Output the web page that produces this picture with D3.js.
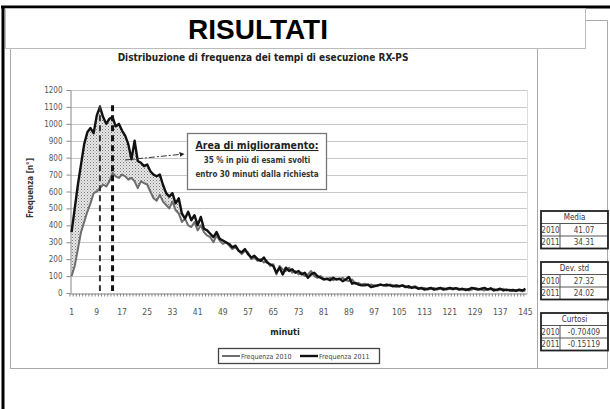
<!DOCTYPE html>
<html>
<head>
<meta charset="utf-8">
<script src="https://cdn.jsdelivr.net/npm/d3@7"></script>
<style>
  body { margin: 0; background: #fff; }
  svg { display: block; }
  .tick text { font-family: "Liberation Sans Narrow", "DejaVu Sans Condensed", sans-serif; fill: #555; }
</style>
</head>
<body>
<svg id="board" width="610" height="409"></svg>
<script>
// minutes 1..145
var minutes = d3.range(1, 146);
var xLabels = [1, 9, 17, 25, 33, 41, 49, 57, 65, 73, 81, 89, 97, 105, 113, 121, 129, 137, 145];
var yTicks = [0, 100, 200, 300, 400, 500, 600, 700, 800, 900, 1000, 1100, 1200];

var freq2010 = [
  100, 160, 260, 360, 420, 480, 530, 590, 600, 620,
  640, 630, 660, 710, 690, 680, 700, 690, 670, 680,
  660, 620, 660, 650, 640, 600, 560, 545, 580, 540,
  520, 500, 540, 490, 470, 420, 440, 400, 390, 420,
  370, 400, 360, 340, 330, 300, 340, 310, 290, 300,
  280, 260, 270, 250, 230, 250, 240, 200, 210, 190,
  200, 180, 190, 160, 170, 110, 160, 140, 130, 150,
  120, 130, 110, 120, 100, 110, 130, 100, 90, 100,
  85, 80, 90, 75, 85, 80, 90, 75, 70, 80,
  55, 60, 50, 55, 45, 50, 45, 40, 50, 45,
  40, 50, 45, 35, 40, 45, 40, 30, 35, 40,
  30, 25, 30, 20, 25, 30, 20, 25, 30, 20,
  25, 20, 30, 25, 20, 25, 15, 20, 30, 25,
  20, 15, 25, 20, 25, 15, 20, 25, 15, 20,
  12, 18, 15, 10, 15
];
var freq2011 = [
  360, 500, 640, 760, 880, 950, 975, 945, 1050, 1100,
  1040, 1000, 1030, 1040, 985, 1000, 960, 930, 880, 790,
  900, 780, 770, 750, 760, 720, 700, 690, 700, 640,
  590, 570, 590, 530, 560, 470, 440, 480, 430, 460,
  400, 450, 380, 370, 350, 330, 360, 320, 310, 300,
  290, 270, 280, 250, 240, 260, 230, 210, 220, 200,
  190, 210, 180, 170, 160, 120, 150, 110, 150, 130,
  140, 120, 130, 110, 120, 90, 110, 120, 100, 90,
  80, 85, 75, 90, 80, 85, 70, 80, 95, 55,
  60, 50, 45, 45, 50, 35, 40, 45, 50, 45,
  50, 45, 40, 45, 40, 45, 35, 40, 30, 35,
  25, 30, 20, 25, 30, 20, 25, 30, 20, 25,
  30, 25, 28, 20, 25, 18, 22, 30, 25, 20,
  25, 30, 20, 28, 15, 20, 25, 15, 20, 15,
  18, 12, 20, 15, 25
];
var shadeUntil = 36;      // improvement area covers minutes 1..36
var markerMinutes = [10, 14];

var statYears = ['2010', '2011'];
var mediaVals = ['41.07', '34.31'];
var devStdVals = ['27.32', '24.02'];
var curtosiVals = ['-0.70409', '-0.15119'];

var narrow = '"Liberation Sans Narrow", "DejaVu Sans Condensed", sans-serif';
var svg = d3.select('#board');

// outer black frame (top + left)
svg.append('line').attr('x1', 1).attr('x2', 610).attr('y1', 7).attr('y2', 7)
  .attr('stroke', '#000').attr('stroke-width', 3);
svg.append('line').attr('x1', 3).attr('x2', 3).attr('y1', 6).attr('y2', 409)
  .attr('stroke', '#000').attr('stroke-width', 3);

// chart area frame and side panel
var frame = svg.append('g').attr('fill', 'none').attr('stroke', '#aaa').attr('stroke-width', 1);
frame.append('rect').attr('x', 10.5).attr('y', 38.5).attr('width', 527).attr('height', 330);
frame.append('path').attr('d', 'M537.5,368.5 H607.5 V20.5 H585');

// title box
svg.append('rect').attr('x', 5.5).attr('y', 8.5).attr('width', 580).attr('height', 40)
  .attr('fill', '#fff').attr('stroke', '#bbb');
svg.append('text').attr('x', 258).attr('y', 39).attr('text-anchor', 'middle')
  .attr('font-family', 'Arial, "Liberation Sans", sans-serif').attr('font-weight', 'bold')
  .attr('font-size', 28).text('RISULTATI');

svg.append('text').attr('x', 263).attr('y', 61).attr('text-anchor', 'middle')
  .attr('font-family', narrow).attr('font-weight', 'bold').attr('font-size', 10)
  .attr('fill', '#222').text('Distribuzione di frequenza dei tempi di esecuzione RX-PS');

// scales
var x = d3.scaleBand().domain(minutes).range([70, 527]);
var bw = x.bandwidth();
var y = d3.scaleLinear().domain([0, 1200]).range([293, 90]);
var cx = m => x(m) + bw / 2;

// gridlines
svg.append('g').selectAll('line').data(yTicks.slice(1)).join('line')
  .attr('x1', 70).attr('x2', 527)
  .attr('y1', d => Math.round(y(d)) + 0.5).attr('y2', d => Math.round(y(d)) + 0.5)
  .attr('stroke', '#c8c8c8').attr('stroke-width', 1.2);
svg.append('line').attr('x1', 527.5).attr('x2', 527.5).attr('y1', 90).attr('y2', 293)
  .attr('stroke', '#ddd');

// stipple pattern for the improvement area
var defs = svg.append('defs');
var pat = defs.append('pattern').attr('id', 'stipple').attr('patternUnits', 'userSpaceOnUse')
  .attr('width', 3).attr('height', 3);
pat.append('rect').attr('width', 3).attr('height', 3).attr('fill', '#e8e8e8');
pat.append('rect').attr('width', 1).attr('height', 1).attr('fill', '#777');
pat.append('rect').attr('x', 1.5).attr('y', 1.5).attr('width', 1).attr('height', 1).attr('fill', '#999');

var shadeData = minutes.filter(m => m <= shadeUntil);
var area = d3.area().x(m => cx(m))
  .y0(m => y(freq2010[m - 1])).y1(m => y(Math.max(freq2010[m - 1], freq2011[m - 1])));
svg.append('path').datum(shadeData).attr('d', area).attr('fill', 'url(#stipple)');

// axes
var yAxis = svg.append('g').attr('transform', 'translate(70.5,0)')
  .call(d3.axisLeft(y).tickValues(yTicks).tickFormat(d3.format('d'))
    .tickSize(4).tickSizeOuter(0).tickPadding(4));
yAxis.selectAll('text').attr('font-size', 8);
yAxis.selectAll('line, path').attr('stroke', '#888');

var xAxis = svg.append('g').attr('transform', 'translate(0,293.5)')
  .call(d3.axisBottom(x).tickSize(3).tickSizeOuter(0).tickPadding(12)
    .tickFormat(d => xLabels.includes(d) ? d : ''));
xAxis.selectAll('.tick line').attr('transform', `translate(${-bw / 2},0)`);
xAxis.selectAll('text').attr('font-size', 8.5);
xAxis.selectAll('line, path').attr('stroke', '#888');

svg.append('text').attr('transform', 'translate(33,188) rotate(-90)').attr('text-anchor', 'middle')
  .attr('font-family', narrow).attr('font-weight', 'bold').attr('font-size', 8).attr('fill', '#333')
  .text('Frequenza [n°]');
svg.append('text').attr('x', 285).attr('y', 335).attr('text-anchor', 'middle')
  .attr('font-family', narrow).attr('font-weight', 'bold').attr('font-size', 9).attr('fill', '#222')
  .text('minuti');

// series lines
var line = d3.line().x(m => cx(m));
svg.append('path').datum(minutes).attr('d', line.y(m => y(freq2010[m - 1])))
  .attr('fill', 'none').attr('stroke', '#6e6e6e').attr('stroke-width', 2).attr('stroke-linejoin', 'round');
svg.append('path').datum(minutes).attr('d', line.y(m => y(freq2011[m - 1])))
  .attr('fill', 'none').attr('stroke', '#111').attr('stroke-width', 2.4).attr('stroke-linejoin', 'round');

// dashed markers
svg.append('g').selectAll('line').data(markerMinutes).join('line')
  .attr('x1', m => cx(m)).attr('x2', m => cx(m))
  .attr('y1', y(1110)).attr('y2', y(0) - 2)
  .attr('stroke', (m, i) => i ? '#111' : '#333')
  .attr('stroke-width', (m, i) => i ? 3 : 2)
  .attr('stroke-dasharray', '6,4');

// annotation arrow + box
defs.append('marker').attr('id', 'arrow').attr('viewBox', '0 0 10 10').attr('refX', 9).attr('refY', 5)
  .attr('markerWidth', 5).attr('markerHeight', 5).attr('orient', 'auto')
  .append('path').attr('d', 'M0,0 L10,5 L0,10 Z').attr('fill', '#222');
svg.append('line').attr('x1', 125).attr('y1', 160).attr('x2', 184).attr('y2', 154)
  .attr('stroke', '#333').attr('stroke-width', 1).attr('stroke-dasharray', '6,2,2,2')
  .attr('marker-end', 'url(#arrow)');

svg.append('rect').attr('x', 187.5).attr('y', 133.5).attr('width', 139).attr('height', 56)
  .attr('fill', '#fff').attr('stroke', '#777').attr('stroke-width', 1.3);
svg.append('text').attr('x', 257).attr('y', 149).attr('text-anchor', 'middle')
  .attr('font-family', narrow).attr('font-weight', 'bold').attr('font-size', 10.5)
  .attr('text-decoration', 'underline').attr('fill', '#222').text('Area di miglioramento:');
svg.append('text').attr('x', 257).attr('y', 163).attr('text-anchor', 'middle')
  .attr('font-family', narrow).attr('font-weight', 'bold').attr('font-size', 8)
  .attr('fill', '#333').text('35 % in più di esami svolti');
svg.append('text').attr('x', 257).attr('y', 177).attr('text-anchor', 'middle')
  .attr('font-family', narrow).attr('font-weight', 'bold').attr('font-size', 8)
  .attr('fill', '#333').text('entro 30 minuti dalla richiesta');

// legend
var lg = svg.append('g').attr('transform', 'translate(218,348)');
lg.append('rect').attr('x', 0.5).attr('y', 0.5).attr('width', 161).attr('height', 15)
  .attr('fill', '#fff').attr('stroke', '#444').attr('stroke-width', 1.3);
[['Frequenza 2010', '#6e6e6e', 2], ['Frequenza 2011', '#111', 2.4]].forEach((s, i) => {
  var ox = 4 + i * 78;
  lg.append('line').attr('x1', ox).attr('x2', ox + 18).attr('y1', 8).attr('y2', 8)
    .attr('stroke', s[1]).attr('stroke-width', s[2]);
  lg.append('text').attr('x', ox + 19).attr('y', 10.5).attr('font-family', narrow)
    .attr('font-size', 7).attr('fill', '#444').text(s[0]);
});

// stats tables
function statTable(top, title, vals) {
  var g = svg.append('g').attr('transform', `translate(541,${top})`);
  var w = 67, rh = 12.5;
  g.append('line').attr('x1', 0).attr('x2', w).attr('y1', rh).attr('y2', rh).attr('stroke', '#555');
  g.append('line').attr('x1', 0).attr('x2', w).attr('y1', rh * 2).attr('y2', rh * 2).attr('stroke', '#555');
  g.append('line').attr('x1', 19).attr('x2', 19).attr('y1', rh).attr('y2', rh * 3).attr('stroke', '#555');
  g.append('rect').attr('width', w).attr('height', rh * 3).attr('fill', 'none')
    .attr('stroke', '#222').attr('stroke-width', 1.8);
  g.append('text').attr('x', w / 2).attr('y', rh - 3.5).attr('text-anchor', 'middle')
    .attr('font-family', narrow).attr('font-size', 8).attr('fill', '#333').text(title);
  statYears.forEach((yr, i) => {
    g.append('text').attr('x', 9.5).attr('y', rh * (i + 2) - 3.5).attr('text-anchor', 'middle')
      .attr('font-family', narrow).attr('font-size', 8).attr('fill', '#444').text(yr);
    g.append('text').attr('x', 43).attr('y', rh * (i + 2) - 3.5).attr('text-anchor', 'middle')
      .attr('font-family', narrow).attr('font-size', 8).attr('fill', '#444').text(vals[i]);
  });
}
statTable(211, 'Media', mediaVals);
statTable(262, 'Dev. std', devStdVals);
statTable(313, 'Curtosi', curtosiVals);
</script>
</body>
</html>
